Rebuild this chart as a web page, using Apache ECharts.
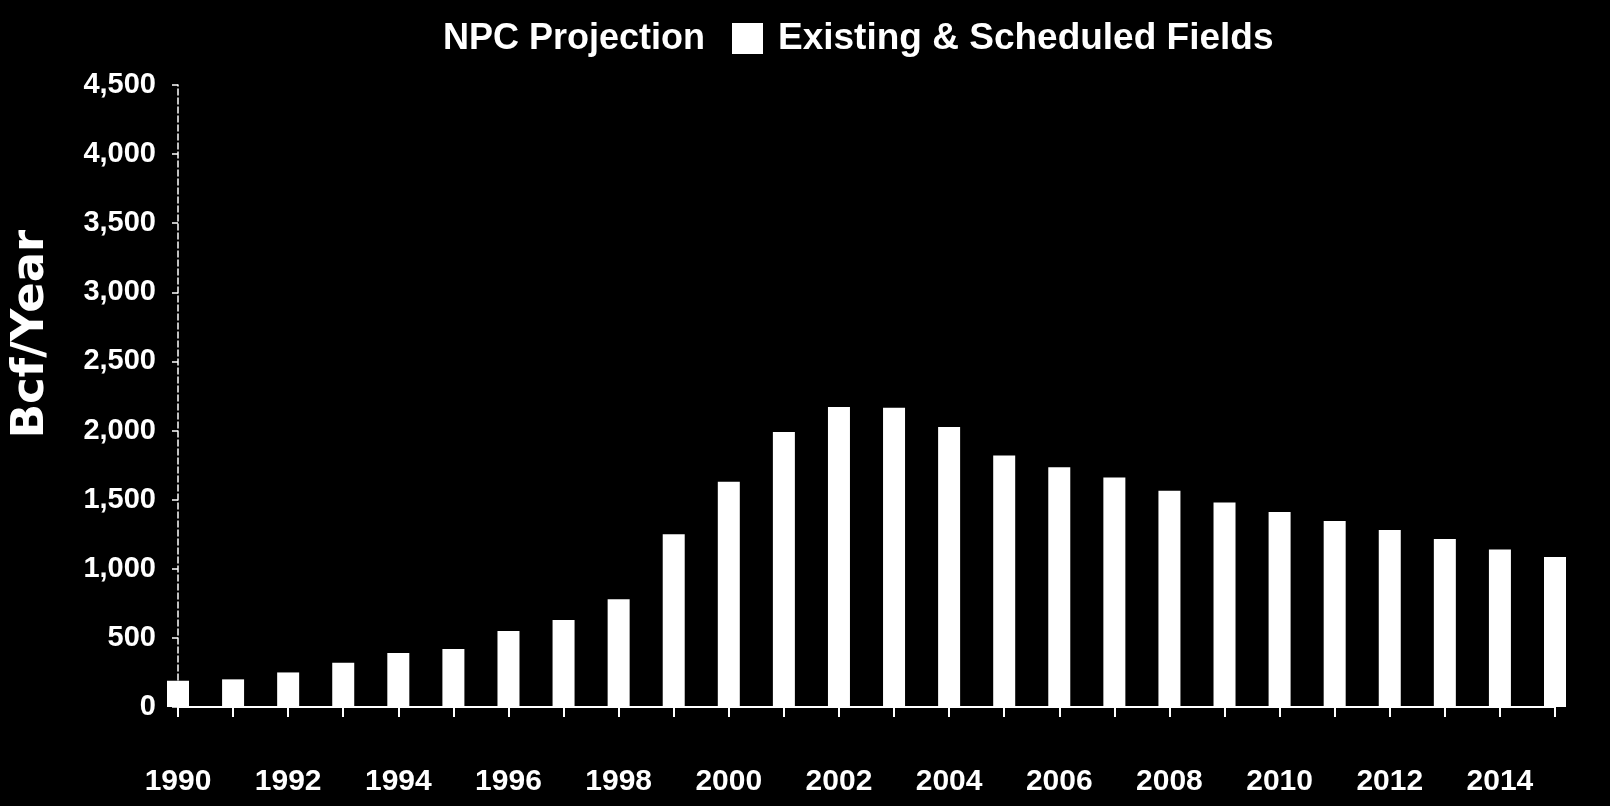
<!DOCTYPE html>
<html>
<head>
<meta charset="utf-8">
<script src="https://cdn.jsdelivr.net/npm/echarts@6/dist/echarts.min.js"></script>
<style>
html,body{margin:0;padding:0;background:#000;}
#chart{width:1610px;height:806px;}
</style>
</head>
<body>
<div id="chart"></div>
<script>
const years = ['1990','1991','1992','1993','1994','1995','1996','1997','1998','1999','2000','2001','2002','2003','2004','2005','2006','2007','2008','2009','2010','2011','2012','2013','2014','2015'];
const existingScheduled = [190,200,250,320,390,420,550,630,780,1250,1630,1990,2170,2165,2025,1820,1735,1660,1565,1480,1410,1345,1280,1215,1140,1085];
const yTicks = [0,500,1000,1500,2000,2500,3000,3500,4000,4500];
const legendTitle = 'NPC Projection';
const seriesName = 'Existing & Scheduled Fields';
const yName = 'Bcf/Year';

const font = '"Liberation Sans", Arial, sans-serif';
const chart = echarts.init(document.getElementById('chart'));
chart.setOption({
  backgroundColor: '#000',
  animation: false,
  title: {
    text: legendTitle,
    left: 438, top: 16,
    textStyle: {color:'#fff', fontFamily: font, fontWeight:'bold', fontSize:36}
  },
  legend: {
    data: [seriesName],
    left: 727, top: 15,
    itemWidth: 31, itemHeight: 31, itemGap: 12,
    icon: 'rect',
    textStyle: {color:'#fff', fontFamily: font, fontWeight:'bold', fontSize:37, padding:[0,0,0,10]}
  },
  graphic: [{
    type: 'text',
    x: 31, y: 334,
    rotation: Math.PI/2,
    style: {text: yName, fill:'#fff', font: 'bold 45px "DejaVu Sans", sans-serif', textAlign:'center', textVerticalAlign:'middle'}
  }],
  grid: {left: 178, right: 55, top: 85, bottom: 99, containLabel: false},
  xAxis: {
    type: 'category',
    data: years,
    boundaryGap: false,
    axisLine: {show:true, lineStyle:{color:'#fff', width:2}},
    axisTick: {show:true, interval:0, length:10, lineStyle:{color:'#fff', width:2}},
    axisLabel: {interval:1, margin:60, color:'#fff', fontFamily: font, fontWeight:'bold', fontSize:30},
    splitLine: {show:false}
  },
  yAxis: {
    type: 'value',
    min: yTicks[0], max: yTicks[yTicks.length-1], interval: 500,
    axisLine: {show:true, lineStyle:{color:'#fff', width:1.5, type:'dashed'}},
    axisTick: {show:true, length:6, lineStyle:{color:'#fff', width:1.5}},
    axisLabel: {margin:22, color:'#fff', fontFamily: font, fontWeight:'bold', fontSize:29,
      formatter: v => v.toLocaleString('en-US')},
    splitLine: {show:false}
  },
  series: [{
    name: seriesName,
    type: 'bar',
    data: existingScheduled,
    barWidth: 22,
    clip: false,
    itemStyle: {color:'#fff'}
  }]
});
</script>
</body>
</html>
